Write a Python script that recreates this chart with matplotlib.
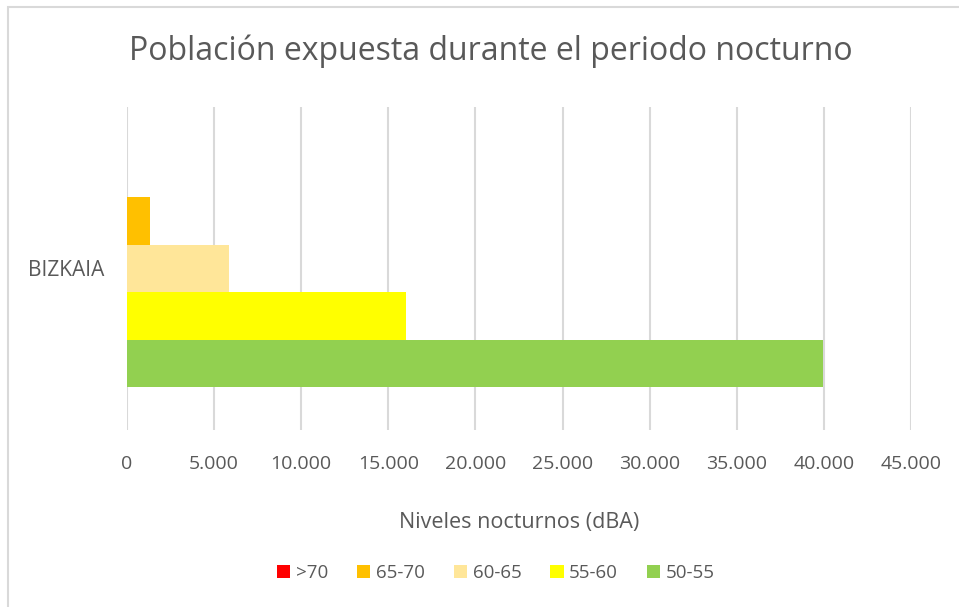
import matplotlib.pyplot as plt
from matplotlib.patches import Rectangle
from matplotlib.ticker import FuncFormatter

# Data
categories = ["BIZKAIA"]
series_names = [">70", "65-70", "60-65", "55-60", "50-55"]
series_values = [0, 1330, 5850, 16000, 39950]
series_colors = ["#FF0000", "#FFC000", "#FFE699", "#FFFF00", "#92D050"]
x_ticks = list(range(0, 45001, 5000))

plt.rcParams["font.family"] = ["Open Sans", "DejaVu Sans"]
text_color = "#595959"

fig = plt.figure(figsize=(9.59, 6.07), dpi=100)
fig.patches.append(Rectangle((8 / 959, -0.1), 1.2, 1 - 7 / 607 + 0.1,
                             transform=fig.transFigure, fill=False,
                             edgecolor="#D9D9D9", linewidth=1.5))

ax = fig.add_axes([127 / 959, 1 - 430 / 607, (911 - 127) / 959, (430 - 107) / 607])

bar_h = 0.147
n = len(series_names)
for i, (name, val, col) in enumerate(zip(series_names, series_values, series_colors)):
    # first series at top of the group
    offset = (n - 1) / 2 * bar_h - i * bar_h
    ax.barh([0 + offset], [val], height=bar_h, color=col, label=name, zorder=3)

ax.set_xlim(0, 45000)
ax.set_ylim(-0.5, 0.5)
ax.set_xticks(x_ticks)
ax.xaxis.set_major_formatter(FuncFormatter(lambda v, p: f"{int(v):,}".replace(",", ".")))
ax.set_yticks([0])
ax.set_yticklabels(categories)
ax.grid(axis="x", color="#D9D9D9", linewidth=1.5, zorder=0)
for s in ax.spines.values():
    s.set_visible(False)
ax.tick_params(axis="both", length=0, colors=text_color, labelsize=14)
ax.tick_params(axis="x", pad=18)
ax.tick_params(axis="y", pad=16, labelsize=15)
ax.set_xlabel("Niveles nocturnos (dBA)", color=text_color, fontsize=15.5, labelpad=28)

fig.text(491 / 959, 1 - 51 / 607, "Población expuesta durante el periodo nocturno",
         ha="center", va="center", color=text_color, fontsize=23)

fig.legend(loc="center", bbox_to_anchor=(496 / 959, 1 - 573 / 607), ncol=5,
           frameon=False, fontsize=13.5, handlelength=0.7, handleheight=0.7,
           handletextpad=0.3, columnspacing=1.55, labelcolor=text_color)

fig.savefig("out.png", dpi=100)
